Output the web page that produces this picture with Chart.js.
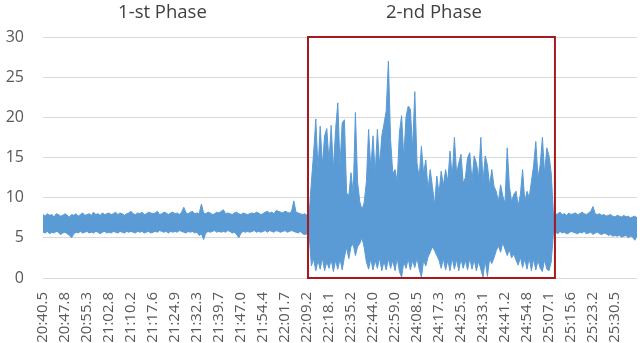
<!DOCTYPE html>
<html>
<head>
<meta charset="utf-8">
<script src="https://cdn.jsdelivr.net/npm/chart.js@4/dist/chart.umd.min.js"></script>
<style>
  html, body { margin: 0; padding: 0; background: #fff; }
  #wrap { width: 640px; height: 343px; }
</style>
</head>
<body>
<div id="wrap"><canvas id="chart" width="640" height="343"></canvas></div>
<script>
// time labels shown every 10th sample
const tickLabels = [
  "20:40.5", "20:47.8", "20:55.3", "21:02.8", "21:10.2", "21:17.6", "21:24.9",
  "21:32.3", "21:39.7", "21:47.0", "21:54.4", "22:01.7", "22:09.2", "22:18.1",
  "22:35.2", "22:44.0", "22:59.0", "24:08.5", "24:17.3", "24:25.3", "24:33.1",
  "24:41.2", "24:54.8", "25:07.1", "25:15.6", "25:23.2", "25:30.5"
];
const labelStep = 10;

const yTicks = [0, 5, 10, 15, 20, 25, 30];

// the signal swings fast, so each sample keeps its top and bottom reading
const firstPhaseTop = [
  7.9,7.7,8.0,7.8,7.9,7.6,8.0,7.9,7.7,7.8,
  8.0,7.8,7.6,7.9,7.8,8.0,7.7,7.9,8.1,7.8,
  7.9,8.0,7.8,8.2,7.9,8.0,7.8,8.1,7.9,8.0,
  8.1,7.9,8.0,8.2,7.9,8.1,8.0,7.8,8.0,8.1,
  8.3,8.0,7.9,8.1,8.0,8.2,7.9,8.0,8.2,8.1,
  8.0,8.1,8.3,7.9,8.0,8.2,8.1,7.9,8.1,8.2,
  8.0,8.1,7.9,8.2,8.8,8.1,8.0,8.2,8.3,8.0,
  8.1,8.0,9.2,8.1,8.0,8.2,8.1,7.9,8.0,8.2,
  8.1,8.3,8.5,8.0,8.1,8.0,7.9,8.1,8.2,8.0,
  7.9,8.1,8.0,7.9,8.0,8.1,8.0,8.2,8.1,7.9,
  8.0,8.2,8.3,8.1,8.2,8.0,8.4,8.3,8.2,8.1,
  8.3,8.2,8.1,8.3,9.6,8.2,8.1,8.0,7.9,8.0,
  7.8,7.9
];
const firstPhaseBottom = [
  5.7,5.6,5.8,5.5,5.7,5.6,5.8,5.7,5.4,5.6,
  5.7,5.5,5.3,5.0,5.5,5.7,5.6,5.8,5.6,5.7,
  5.8,5.6,5.7,5.6,5.8,5.7,5.5,5.7,5.8,5.6,
  5.7,5.6,5.8,5.7,5.6,5.8,5.7,5.6,5.8,5.7,
  5.8,5.7,5.6,5.8,5.7,5.8,5.6,5.7,5.8,5.6,
  5.7,5.8,5.7,5.9,5.8,5.7,5.8,5.6,5.8,5.7,
  5.8,5.7,5.9,5.8,5.7,5.6,5.8,5.7,5.8,5.6,
  5.7,5.3,5.5,4.8,5.6,5.8,5.7,5.8,5.9,5.7,
  5.8,5.7,5.8,5.7,5.9,5.8,5.6,5.7,5.4,5.0,
  5.6,5.8,5.7,5.8,5.7,5.8,5.9,5.7,5.8,5.7,
  5.8,5.9,5.7,5.9,5.8,5.7,5.9,5.8,5.7,5.8,
  5.9,5.7,5.8,5.9,5.8,5.7,5.6,5.8,5.5,5.4,
  5.5,5.3
];
const secondPhaseTop = [
  12.0,15.5,19.8,13.5,18.9,14.0,17.7,18.6,14.5,19.0,
  13.5,18.5,21.8,14.0,19.3,19.7,10.6,10.2,13.1,10.5,
  20.6,11.9,9.5,8.5,9.4,12.0,18.5,13.5,17.7,13.0,
  18.5,14.0,17.7,19.2,20.8,27.0,17.2,13.0,13.5,12.0,
  18.1,20.2,15.0,20.0,21.4,21.0,16.0,23.2,14.3,12.5,
  16.4,13.0,14.7,11.0,13.5,11.4,9.1,12.7,10.5,13.3,
  11.5,13.5,12.0,15.8,12.5,17.5,13.0,14.3,15.4,11.8,
  12.5,15.0,15.6,12.0,15.2,14.3,12.5,17.5,12.0,15.2,
  14.1,11.5,13.5,11.4,10.8,9.5,11.6,10.2,9.3,16.2,
  11.4,9.5,10.4,10.8,9.0,10.4,13.5,9.5,10.8,10.0,
  12.0,14.0,17.0,12.5,14.1,17.5,13.0,16.2,15.2,13.1
];
const secondPhaseBottom = [
  1.5,2.4,0.9,2.2,1.1,2.5,0.9,2.0,1.2,2.3,
  0.8,2.2,1.1,2.4,1.0,2.6,3.8,2.4,3.9,4.2,
  2.8,3.9,4.3,5.0,3.8,2.0,1.1,2.4,1.0,2.2,
  1.2,2.5,0.9,2.1,1.0,2.4,1.2,2.2,0.9,2.5,
  0.8,0.1,2.0,1.2,2.4,1.0,2.2,1.3,2.5,1.1,
  0.1,2.2,1.5,2.6,3.2,3.9,3.4,2.8,2.2,1.2,
  2.4,1.0,2.2,0.9,2.5,1.1,2.3,0.9,2.4,1.2,
  2.2,1.0,2.5,1.1,2.3,0.9,2.1,1.1,0.1,2.2,
  0.2,2.4,1.8,2.5,3.4,4.0,3.2,4.4,3.6,2.8,
  3.5,2.5,3.0,2.2,1.6,2.6,1.3,2.4,1.1,2.5,
  0.9,2.4,1.0,2.2,1.2,0.8,2.3,1.1,0.9,2.0
];
const afterPhaseTop = [
  8.1,7.9,8.0,8.2,7.9,8.0,7.8,8.1,7.9,8.0,
  8.1,7.9,8.0,8.2,8.0,7.9,8.1,8.3,8.9,8.0,
  7.9,8.0,7.8,7.9,7.7,7.8,7.9,7.7,7.6,7.8,
  7.7,7.6,7.8,7.6,7.7,7.5,7.6,7.7,7.5
];
const afterPhaseBottom = [
  5.6,5.7,5.5,5.8,5.6,5.7,5.5,5.6,5.8,5.7,
  5.6,5.5,5.7,5.6,5.8,5.5,5.6,5.7,5.4,5.6,
  5.7,5.5,5.4,5.6,5.5,5.3,5.4,5.2,5.3,5.2,
  5.3,5.1,5.2,5.3,5.0,5.2,5.1,4.7,5.2
];

const topValues = firstPhaseTop.concat(secondPhaseTop, afterPhaseTop);
const bottomValues = firstPhaseBottom.concat(secondPhaseBottom, afterPhaseBottom);
const labels = topValues.map((v, i) => i % labelStep === 0 ? (tickLabels[i / labelStep] || "") : "");

// red frame and the captions (sample index)
const phaseBox = { from: 120.45, to: 232.7 };
const phaseTitles = [
  { text: "1-st Phase", at: 54.3 },
  { text: "2-nd Phase", at: 177.7 }
];

const phasePlugin = {
  id: "phases",
  afterDatasetsDraw(chart) {
    const ctx = chart.ctx;
    const x = chart.scales.x, y = chart.scales.y;
    const x1 = x.getPixelForValue(phaseBox.from);
    const x2 = x.getPixelForValue(phaseBox.to);
    const y1 = y.getPixelForValue(30);
    const y2 = y.getPixelForValue(0);
    ctx.save();
    ctx.strokeStyle = "#a8191c";
    ctx.lineWidth = 2;
    ctx.strokeRect(x1, y1, x2 - x1, y2 - y1);

    ctx.fillStyle = "#404040";
    ctx.font = "18.5px 'Open Sans'";
    ctx.textAlign = "center";
    ctx.textBaseline = "alphabetic";
    phaseTitles.forEach(t => {
      ctx.fillText(t.text, x.getPixelForValue(t.at), 17.5);
    });
    ctx.restore();
  }
};

const blue = "#5b9bd5";

new Chart(document.getElementById("chart"), {
  type: "line",
  data: {
    labels: labels,
    datasets: [{
      data: topValues,
      borderColor: blue,
      backgroundColor: blue,
      borderWidth: 1,
      pointRadius: 0,
      tension: 0,
      fill: "+1"
    }, {
      data: bottomValues,
      borderColor: blue,
      borderWidth: 1,
      pointRadius: 0,
      tension: 0,
      fill: false
    }]
  },
  options: {
    responsive: false,
    animation: false,
    layout: { padding: { top: 37, right: 3, left: 0, bottom: 0 } },
    plugins: {
      legend: { display: false },
      tooltip: { enabled: false }
    },
    scales: {
      x: {
        grid: { display: false },
        border: { display: false },
        ticks: {
          autoSkip: false,
          maxRotation: 90,
          minRotation: 90,
          padding: 6,
          color: "#595959",
          font: { family: "'Open Sans'", size: 15 }
        },
        afterFit(s) {
          s.height = 65;
          s.paddingLeft = 0;
          s.paddingRight = 0;
        }
      },
      y: {
        min: 0,
        max: 30,
        afterBuildTicks(s) { s.ticks = yTicks.map(v => ({ value: v })); },
        grid: { color: "#d9d9d9", lineWidth: 1, drawTicks: false },
        border: { display: false },
        ticks: {
          padding: 19,
          color: "#595959",
          font: { family: "'Open Sans'", size: 16 }
        },
        afterFit(s) { s.width = 43; }
      }
    }
  },
  plugins: [phasePlugin]
});
</script>
</body>
</html>
